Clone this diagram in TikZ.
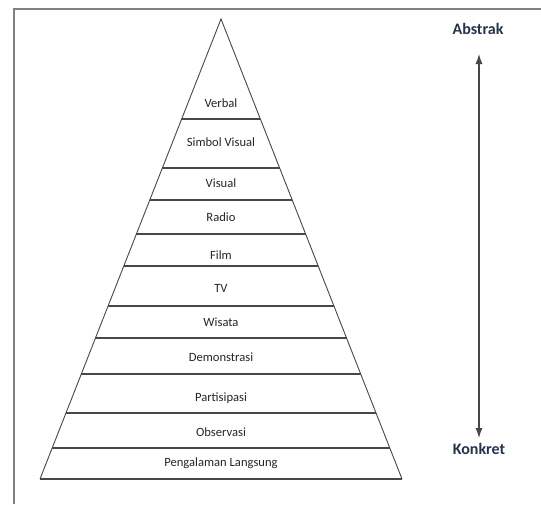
\documentclass[tikz,border=0pt]{standalone}
\usepackage{fontspec}
\setmainfont{Carlito}
\usetikzlibrary{calc,arrows.meta}
\definecolor{framegray}{HTML}{808080}
\definecolor{linegray}{HTML}{474747}
\definecolor{labelgray}{HTML}{262626}
\definecolor{endblue}{HTML}{26344A}
\tikzset{
  frameline/.style={draw=framegray, line width=1.4pt},
  pyrside/.style={draw=linegray, line width=0.9pt, line join=miter},
  bandline/.style={draw=linegray, line width=1.3pt},
  bandlabel/.style={text=labelgray, font=\fontsize{12.6}{15}\selectfont, inner sep=0pt},
  endlabel/.style={text=endblue, font=\bfseries\fontsize{16}{19}\selectfont, inner sep=0pt},
  scalearrow/.style={draw=linegray, line width=1.1pt, {Latex[length=10pt,width=7pt]}-{Latex[length=10pt,width=7pt]}}
}
\begin{document}
\begin{tikzpicture}[x=1pt,y=-1pt]
\useasboundingbox (0,0) rectangle (541,504);
\fill[white] (0,0) rectangle (541,504);
% frame (top and left edges)
\draw[frameline] (14,504) -- (14,9) -- (541,9);
% pyramid
\coordinate (apex) at (221,19);
\coordinate (bl) at (40,479);
\coordinate (br) at (402,479);
\draw[pyrside] (bl) -- (apex) -- (br);
\draw[bandline] (bl) -- (br);
\foreach \f in {0.2174,0.3239,0.3935,0.4674,0.5370,0.6239,0.6935,0.7717,0.8565,0.9326}{
  \draw[bandline] ($(apex)!\f!(bl)$) -- ($(apex)!\f!(br)$);
}
% labels
\node[bandlabel] (verbal) at (221,103) {Verbal};
\node[bandlabel] (simbol) at (221,142) {Simbol Visual};
\node[bandlabel] (visual) at (221,183) {Visual};
\node[bandlabel] (radio) at (221,217) {Radio};
\node[bandlabel] (film) at (221,255) {Film};
\node[bandlabel] (tv) at (221,288) {TV};
\node[bandlabel] (wisata) at (221,322) {Wisata};
\node[bandlabel] (demo) at (221,357) {Demonstrasi};
\node[bandlabel] (part) at (221,398) {Partisipasi};
\node[bandlabel] (obs) at (221,432) {Observasi};
\node[bandlabel] (peng) at (221,463) {Pengalaman Langsung};
% scale
\node[endlabel] (abstrak) at (478,29) {Abstrak};
\node[endlabel] (konkret) at (479,449) {Konkret};
\coordinate (atop) at (479,54);
\coordinate (abot) at (479,438);
\draw[scalearrow] (atop) -- (abot);
\end{tikzpicture}
\end{document}
